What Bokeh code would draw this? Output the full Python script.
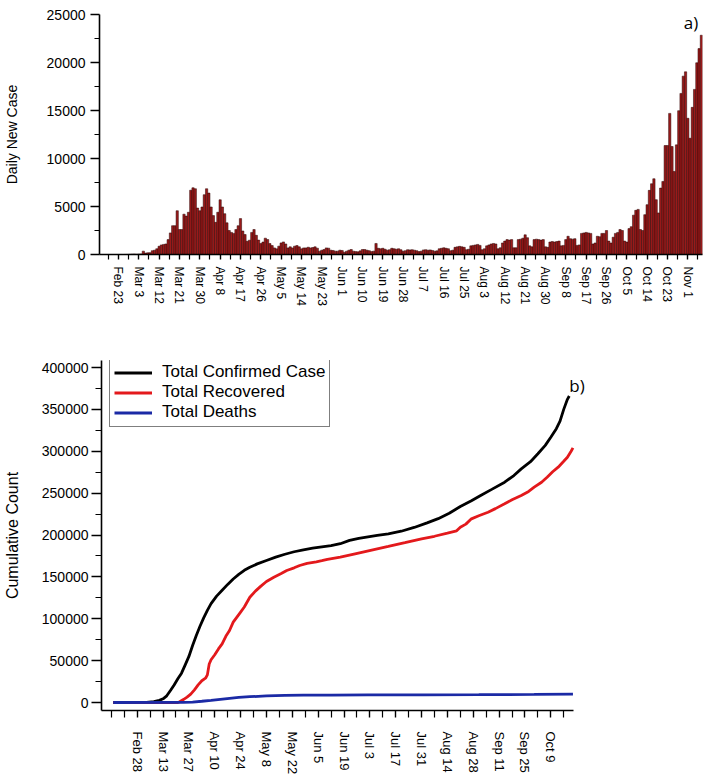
import pandas as pd
from bokeh.plotting import figure
from bokeh.models import FixedTicker, Label, Legend, LegendItem, Range1d, ColumnDataSource, BasicTickFormatter
from bokeh.embed import file_html
from bokeh.resources import INLINE

ORIGIN = pd.Timestamp("2020-02-23")
YEAR = "2020"

# ---------------- panel a) daily new cases ----------------
daily_start = "2020-02-15"
daily_new_cases = [
    0, 0, 0, 0, 0, 0, 0, 0,
    0, 2, 0, 5, 10, 25, 40, 55,
    30, 50, 60, 350, 150, 180, 190, 400,
    450, 600, 860, 1000, 1050, 1100, 1550, 2250,
    3000, 3000, 4560, 2600, 2600, 4200, 4000, 4400,
    6700, 6950, 6850, 4840, 4560, 4950, 6230, 6850,
    6400, 4950, 4050, 3350, 4400, 5700, 4950, 4250,
    3300, 2500, 2300, 2200, 2600, 3000, 3740, 2450,
    2080, 1380, 1490, 2300, 2600, 2000, 1500, 1150,
    1300, 1700, 1560, 1140, 930, 690, 590, 870,
    1210, 1310, 1100, 690, 800, 690, 870, 930,
    800, 590, 690, 690, 760, 690, 730, 800,
    660, 350, 450, 520, 690, 660, 450, 420,
    350, 350, 450, 420, 240, 350, 450, 520, 350,
    300, 280, 380, 520, 520, 450, 400,
    300, 350, 1150, 650, 600, 650, 550,
    450, 500, 650, 600, 550, 600, 500,
    350, 400, 500, 480, 500, 450, 400,
    300, 350, 480, 500, 450, 480, 420,
    350, 380, 600, 650, 700, 650, 600,
    400, 450, 750, 800, 850, 800, 750,
    500, 550, 900, 950, 1000, 1050, 950,
    500, 600, 900, 1000, 1100, 1150, 1100,
    600, 700, 1200, 1400, 1550, 1500, 1550,
    700, 700, 1550, 1600, 1700, 2050, 1750,
    900, 800, 1550, 1600, 1550, 1500, 1550,
    800, 750, 1300, 1350, 1300, 1350, 1400,
    900, 950, 1550, 1900, 1650, 1600, 1650,
    950, 1000, 2200, 2250, 2300, 2250, 2200,
    1100, 1200, 1900, 1850, 2200, 2200, 2500,
    1400, 1200, 1800, 2200, 2300, 2600, 2500,
    1400, 1300, 2700, 2900, 4100, 4600, 4700,
    2600, 2500, 4150, 5190, 6680, 7370, 7890,
    5710, 4330, 6920, 7610, 11350, 11350, 14700,
    11250, 8650, 11420, 14980, 16780, 18580, 19030,
    14190, 12110, 15330, 17200, 19970, 21450, 22840,
]
top_tick_labels = ["Feb 23", "Mar 3", "Mar 12", "Mar 21", "Mar 30", "Apr 8", "Apr 17",
                   "Apr 26", "May 5", "May 14", "May 23", "Jun 1", "Jun 10", "Jun 19",
                   "Jun 28", "Jul 7", "Jul 16", "Jul 25", "Aug 3", "Aug 12", "Aug 21",
                   "Aug 30", "Sep 8", "Sep 17", "Sep 26", "Oct 5", "Oct 14", "Oct 23", "Nov 1"]
top_y_ticks = [0, 5000, 10000, 15000, 20000, 25000]

# ---------------- panel b) cumulative counts ----------------
confirmed_dates = ["2020-02-15", "2020-03-04", "2020-03-08", "2020-03-11", "2020-03-13", "2020-03-15",
                   "2020-03-17", "2020-03-19", "2020-03-21", "2020-03-23", "2020-03-25", "2020-03-27",
                   "2020-03-29", "2020-03-31", "2020-04-02", "2020-04-04", "2020-04-06", "2020-04-08",
                   "2020-04-11", "2020-04-14", "2020-04-17", "2020-04-20", "2020-04-23", "2020-04-26",
                   "2020-04-29", "2020-05-03", "2020-05-08", "2020-05-13", "2020-05-18", "2020-05-23",
                   "2020-05-28", "2020-06-02", "2020-06-07", "2020-06-12", "2020-06-17", "2020-06-22",
                   "2020-06-27", "2020-07-02", "2020-07-07", "2020-07-13", "2020-07-20", "2020-07-27",
                   "2020-08-03", "2020-08-09", "2020-08-15", "2020-08-21", "2020-08-27", "2020-09-01",
                   "2020-09-07", "2020-09-14", "2020-09-19", "2020-09-23", "2020-09-28", "2020-10-02",
                   "2020-10-06", "2020-10-09", "2020-10-12", "2020-10-14", "2020-10-16", "2020-10-18",
                   "2020-10-19"]
confirmed_values = [0, 250, 1000, 2500, 4400, 8000, 14300, 21000, 28300, 35000,
                    45000, 55000, 68000, 80000, 91000, 101000, 110000, 118000, 127000, 134000,
                    141000, 147500, 153000, 157800, 161500, 165500, 169600, 173500, 177000, 180000,
                    182300, 184200, 185800, 187300, 189600, 193500, 196000, 197800, 199500, 201400,
                    204500, 209000, 214500, 219500, 226000, 234000, 241000, 247200, 254500, 263100,
                    271000, 279000, 287500, 297000, 307000, 316800, 327000, 336000, 350000, 362000,
                    366000]

recovered_dates = ["2020-02-15", "2020-03-21", "2020-03-22", "2020-03-24", "2020-03-26", "2020-03-28",
                   "2020-03-30", "2020-04-01", "2020-04-03", "2020-04-05", "2020-04-06", "2020-04-07",
                   "2020-04-08", "2020-04-10", "2020-04-12", "2020-04-14", "2020-04-16", "2020-04-18",
                   "2020-04-20", "2020-04-22", "2020-04-24", "2020-04-26", "2020-04-29", "2020-05-02",
                   "2020-05-05", "2020-05-08", "2020-05-12", "2020-05-16", "2020-05-19", "2020-05-23",
                   "2020-05-26", "2020-05-30", "2020-06-04", "2020-06-07", "2020-06-10", "2020-06-17",
                   "2020-06-25", "2020-07-04", "2020-07-13", "2020-07-22", "2020-07-31", "2020-08-07",
                   "2020-08-14", "2020-08-19", "2020-08-21", "2020-08-24", "2020-08-27", "2020-08-31",
                   "2020-09-05", "2020-09-09", "2020-09-14", "2020-09-18", "2020-09-23", "2020-09-27",
                   "2020-09-30", "2020-10-04", "2020-10-07", "2020-10-10", "2020-10-13", "2020-10-16",
                   "2020-10-18", "2020-10-20", "2020-10-21"]
recovered_values = [0, 0, 1000, 3500, 6400, 10000, 15100, 21000, 26000, 29000, 33000, 46000,
                    51000, 57000, 64000, 70000, 79000, 86000, 95900, 102000, 108000, 114000,
                    125700, 133000, 139000, 144500, 149600, 154000, 157600, 160800, 163600, 166200,
                    168000, 169300, 170800, 173500, 177500, 182000, 186300, 190800, 195500, 198500,
                    202200, 205000, 209300, 213000, 219300, 223000, 227200, 231500, 237200, 242000,
                    247200, 252000, 257100, 263000, 269000, 275500, 281000, 288000, 292800, 300000,
                    304100]

deaths_dates = ["2020-02-15", "2020-03-24", "2020-03-29", "2020-04-03", "2020-04-08", "2020-04-13",
                "2020-04-18", "2020-04-23", "2020-04-29", "2020-05-08", "2020-05-18", "2020-05-28",
                "2020-06-12", "2020-07-02", "2020-08-01", "2020-08-31", "2020-09-30", "2020-10-21"]
deaths_values = [0, 200, 500, 1500, 2600, 3800, 5000, 6000, 6900, 7800, 8400, 8700,
                 8900, 9050, 9200, 9350, 9600, 10000]

bottom_tick_labels = ["Feb 28", "Mar 13", "Mar 27", "Apr 10", "Apr 24", "May 8", "May 22",
                      "Jun 5", "Jun 19", "Jul 3", "Jul 17", "Jul 31", "Aug 14", "Aug 28",
                      "Sep 11", "Sep 25", "Oct 9"]
bottom_y_ticks = [0, 50000, 100000, 150000, 200000, 250000, 300000, 350000, 400000]

series_names = ["Total Confirmed Case", "Total Recovered", "Total Deaths"]
series_colors = ["#000000", "#e3191c", "#1b2aa5"]


def day_index(dates):
    return [(pd.Timestamp(d) - ORIGIN).days for d in dates]


def label_days(labels):
    return [(pd.to_datetime(l + " " + YEAR, format="%b %d %Y") - ORIGIN).days for l in labels]


ARIAL = "'Liberation Sans', Arial, sans-serif"


def style_axis(ax, font, size, tick_out, minor_out):
    ax.axis_line_color = "black"
    ax.axis_line_width = 1.6
    ax.major_tick_line_color = "black"
    ax.major_tick_line_width = 1.4
    ax.minor_tick_line_color = "black"
    ax.minor_tick_line_width = 1.2
    ax.major_tick_in = 0
    ax.major_tick_out = tick_out
    ax.minor_tick_in = 0
    ax.minor_tick_out = minor_out
    ax.major_label_text_font = font
    ax.major_label_text_font_size = size
    ax.major_label_text_color = "black"
    ax.axis_label_text_font_style = "normal"
    ax.axis_label_text_color = "black"


# ---------- top figure ----------
bar_days = [(d - ORIGIN).days for d in pd.date_range(daily_start, periods=len(daily_new_cases), freq="D")]
src_a = ColumnDataSource(dict(x=bar_days, y=daily_new_cases))

p1 = figure(width=713, height=308, output_backend="svg", toolbar_location=None,
            x_range=Range1d(-8.4, 258.5), y_range=Range1d(0, 25000),
            min_border_left=97, min_border_right=11, min_border_top=14, min_border_bottom=53)
p1.vbar(x="x", top="y", width=1.0, source=src_a, fill_color="#9a1a1a",
        line_color="#2a0000", line_width=0.5)
p1.grid.visible = False
p1.outline_line_color = None

top_ticks = label_days(top_tick_labels)
top_minor = [t - 4.5 for t in top_ticks] + [top_ticks[-1] + 4.5]
p1.xaxis.ticker = FixedTicker(ticks=top_ticks, minor_ticks=top_minor)
p1.xaxis.major_label_overrides = {t: l for t, l in zip(top_ticks, top_tick_labels)}
p1.xaxis.major_label_orientation = "vertical"
style_axis(p1.xaxis[0], ARIAL, "12px", 5, 5)
p1.xaxis.major_label_standoff = 7

p1.yaxis.ticker = FixedTicker(ticks=top_y_ticks,
                              minor_ticks=[t + 2500 for t in top_y_ticks[:-1]])
p1.yaxis.formatter = BasicTickFormatter(use_scientific=False)
style_axis(p1.yaxis[0], ARIAL, "14px", 9, 5)
p1.yaxis.major_label_standoff = 5
p1.yaxis.axis_label = "Daily New Case"
p1.yaxis.axis_label_text_font = ARIAL
p1.yaxis.axis_label_text_font_size = "14px"
p1.yaxis.axis_label_standoff = 24

p1.add_layout(Label(x=250.2, y=24200, text="a)", text_align="left", text_baseline="middle",
                    text_font="'Open Sans', sans-serif", text_font_size="17px", text_color="black"))

# ---------- bottom figure ----------
X2_START, X2_AXIS_END, X2_END = -14.34, 241.35, 250.5
p2 = figure(width=713, height=469, output_backend="svg", toolbar_location=None,
            x_range=Range1d(X2_START, X2_END), y_range=Range1d(-9552, 408360),
            min_border_left=97, min_border_right=123, min_border_top=52, min_border_bottom=67)
p2.grid.visible = False
p2.outline_line_color = None

renderers = []
for dates, vals, col in [(confirmed_dates, confirmed_values, series_colors[0]),
                         (recovered_dates, recovered_values, series_colors[1]),
                         (deaths_dates, deaths_values, series_colors[2])]:
    r = p2.line(day_index(dates), vals, line_color=col, line_width=2.8)
    renderers.append(r)

bt = label_days(bottom_tick_labels)
bminor = [bt[0] - 14] + [t - 7 for t in bt] + [bt[-1] + 7]
p2.xaxis.ticker = FixedTicker(ticks=bt, minor_ticks=bminor)
p2.xaxis.bounds = (X2_START, X2_AXIS_END)
p2.xaxis.major_label_overrides = {t: l for t, l in zip(bt, bottom_tick_labels)}
p2.xaxis.major_label_orientation = "vertical"
style_axis(p2.xaxis[0], ARIAL, "13px", 7, 7)
p2.xaxis.major_label_standoff = 14

p2.yaxis.ticker = FixedTicker(ticks=bottom_y_ticks,
                              minor_ticks=[t + 25000 for t in bottom_y_ticks[:-1]])
p2.yaxis.formatter = BasicTickFormatter(use_scientific=False)
style_axis(p2.yaxis[0], ARIAL, "14px", 10, 6)
p2.yaxis.major_label_standoff = 3
p2.yaxis.axis_label = "Cumulative Count"
p2.yaxis.axis_label_text_font = ARIAL
p2.yaxis.axis_label_text_font_size = "16px"
p2.yaxis.axis_label_standoff = 18

legend = Legend(items=[LegendItem(label=n, renderers=[r]) for n, r in zip(series_names, renderers)],
                location=(8, 283), padding=4, spacing=0, margin=0,
                glyph_width=38, glyph_height=19, label_height=19, label_standoff=10,
                label_text_font=ARIAL, label_text_font_size="17px", label_text_color="black",
                border_line_color="black", border_line_width=1, background_fill_color="white",
                background_fill_alpha=1.0)
p2.add_layout(legend)

p2.add_layout(Label(x=239.0, y=379000, text="b)", text_align="left", text_baseline="middle",
                    text_font="'Open Sans', sans-serif", text_font_size="17px", text_color="black"))

open("out.html", "w").write(file_html([p1, p2], INLINE))
